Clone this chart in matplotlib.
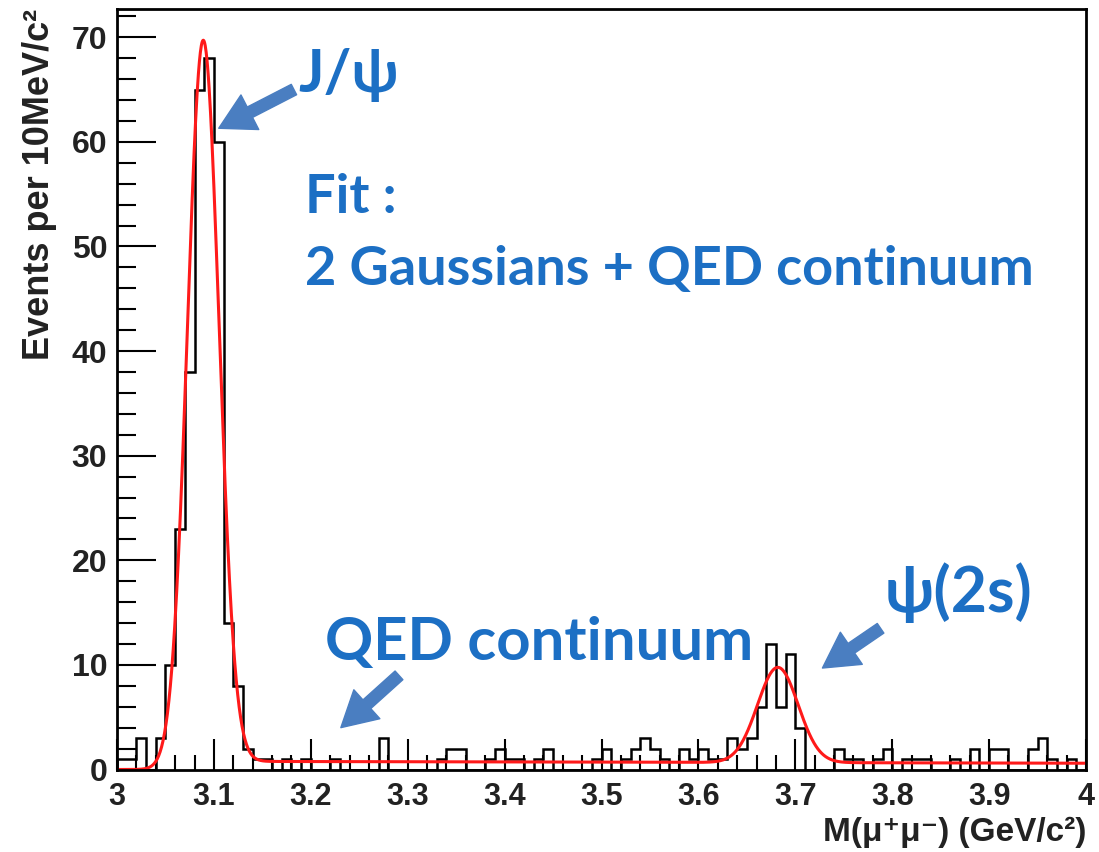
import numpy as np
import matplotlib
matplotlib.use("Agg")
import matplotlib.pyplot as plt
from matplotlib.ticker import MultipleLocator, FuncFormatter

# ---- data: dimuon invariant mass, 10 MeV bins from 3.0 to 4.0 GeV ----
bin_low = 3.0
bin_high = 4.0
n_bins = 100
counts = [
    1, 1, 3, 0, 3, 10, 23, 38, 65, 68,
    60, 14, 8, 2, 1, 1, 0, 1, 0, 1,
    0, 0, 1, 0, 0, 0, 0, 3, 0, 0,
    0, 0, 0, 1, 2, 2, 0, 0, 1, 2,
    1, 1, 0, 1, 2, 0, 0, 0, 0, 1,
    2, 0, 1, 2, 3, 2, 1, 0, 2, 1,
    2, 1, 1, 3, 2, 3, 6, 12, 6, 11,
    4, 0, 0, 0, 2, 1, 1, 0, 1, 2,
    0, 1, 1, 1, 0, 0, 1, 0, 2, 0,
    2, 2, 0, 0, 2, 3, 1, 0, 1, 0,
]

# fit result: two Gaussians + QED continuum
jpsi_amp, jpsi_mean, jpsi_sigma = 69.0, 3.0890, 0.0163
psi2s_amp, psi2s_mean, psi2s_sigma = 9.1, 3.682, 0.021
qed_level, qed_slope, qed_turn_on, qed_turn_width = 0.78, -0.20, 3.07, 0.008

x_ticks = [3.0, 3.1, 3.2, 3.3, 3.4, 3.5, 3.6, 3.7, 3.8, 3.9, 4.0]
y_ticks = [0, 10, 20, 30, 40, 50, 60, 70]


def fit_model(m):
    qed = (qed_level + qed_slope * (m - 3.1)) / (1.0 + np.exp(-(m - qed_turn_on) / qed_turn_width))
    g1 = jpsi_amp * np.exp(-0.5 * ((m - jpsi_mean) / jpsi_sigma) ** 2)
    g2 = psi2s_amp * np.exp(-0.5 * ((m - psi2s_mean) / psi2s_sigma) ** 2)
    return qed + g1 + g2


W, H = 1099, 852
fig = plt.figure(figsize=(W / 100, H / 100), dpi=100)
ax_l, ax_r, ax_b, ax_t = 117, 1086, 769.5, 9
ax = fig.add_axes([ax_l / W, 1 - ax_b / H, (ax_r - ax_l) / W, (ax_b - ax_t) / H])

edges = np.linspace(bin_low, bin_high, n_bins + 1)
ax.stairs(counts, edges, color="black", lw=1.8, baseline=0)

m = np.linspace(bin_low, bin_high, 2000)
ax.plot(m, fit_model(m), color="#ff1a1a", lw=2.2)

ax.set_xlim(bin_low, bin_high)
ax.set_ylim(0, 72.7)

for s in ax.spines.values():
    s.set_linewidth(2.0)

lab_font = ["Liberation Sans", "DejaVu Sans"]
ax.set_xticks(x_ticks)
ax.set_yticks(y_ticks)
ax.xaxis.set_minor_locator(MultipleLocator(0.02))
ax.yaxis.set_minor_locator(MultipleLocator(2))
ax.xaxis.set_major_formatter(FuncFormatter(lambda v, p: f"{v:g}"))
ax.tick_params(axis="x", which="major", direction="in", length=22, width=1.5, pad=9, labelsize=22)
ax.tick_params(axis="x", which="minor", direction="in", length=11, width=1.5)
ax.tick_params(axis="y", which="major", direction="in", length=28, width=1.5, pad=7, labelsize=23)
ax.tick_params(axis="y", which="minor", direction="in", length=14, width=1.5)
for t in ax.get_xticklabels() + ax.get_yticklabels():
    t.set_family(lab_font)
    t.set_fontweight("bold")
    t.set_color("#222222")

ax.set_ylabel("Events per 10MeV/c²", loc="top", fontsize=26, fontweight="bold",
              family=lab_font, color="#222222")
ax.yaxis.set_label_coords(-0.062, 1.0)
ax.set_xlabel("M(μ⁺μ⁻) (GeV/c²)", loc="right", fontsize=24, fontweight="bold",
              family=lab_font, color="#222222")
ax.xaxis.set_label_coords(1.0, -0.062)

# annotations
txt_blue = "#1c6fc4"
arrow_blue = "#4a7ec1"
ann_font = ["Lato", "DejaVu Sans"]

ax.text(3.1868, 64.8, "J/ψ", color=txt_blue, fontsize=43, fontweight="bold", family=ann_font)
ax.text(3.194, 53.2, "Fit :", color=txt_blue, fontsize=39, fontweight="bold", family=ann_font)
ax.text(3.194, 46.3, "2 Gaussians + QED continuum", color=txt_blue, fontsize=39,
        fontweight="bold", family=ann_font)
ax.text(3.2147, 10.47, "QED continuum", color=txt_blue, fontsize=43, fontweight="bold",
        family=ann_font)
ax.text(3.7926, 15.06, "ψ(2s)", color=txt_blue, fontsize=45, fontweight="bold", family=ann_font)

arrow_style = dict(arrowstyle="simple,head_length=0.9,head_width=1.0,tail_width=0.3",
                   color=arrow_blue, mutation_scale=28, shrinkA=0, shrinkB=0)
ax.annotate("", xy=(3.105, 61.3), xytext=(3.1826, 65.0), arrowprops=arrow_style)
ax.annotate("", xy=(3.231, 4.0), xytext=(3.291, 9.0), arrowprops=arrow_style)
ax.annotate("", xy=(3.728, 9.7), xytext=(3.788, 13.5), arrowprops=arrow_style)

fig.savefig("out.png", dpi=100)
